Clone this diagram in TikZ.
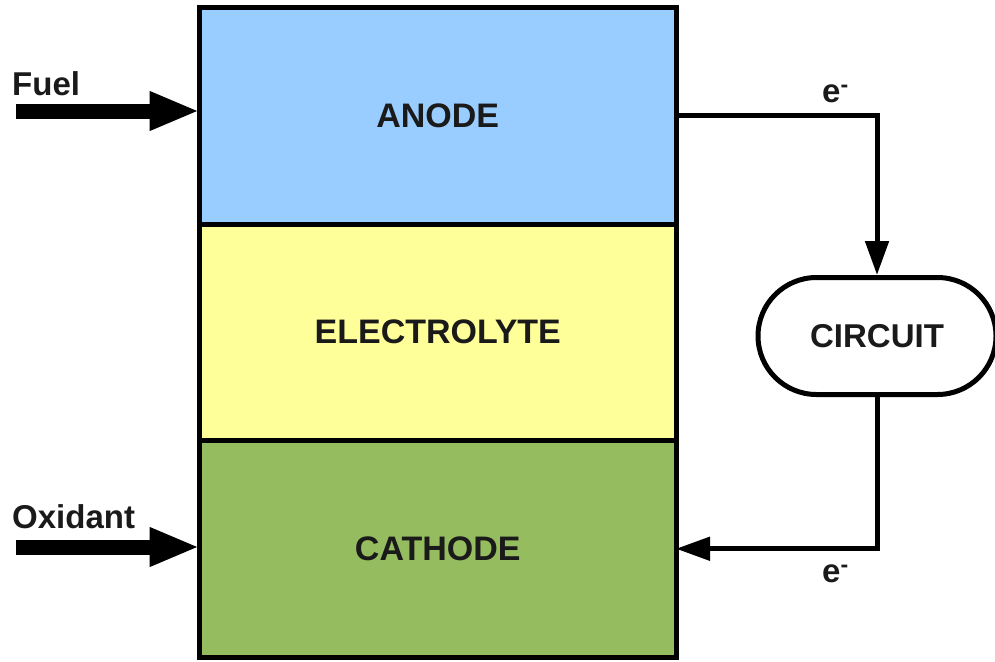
\documentclass[tikz,border=0pt]{standalone}
\usepackage{fontspec}
\setmainfont{Liberation Sans}
\usetikzlibrary{arrows.meta,positioning}
\definecolor{anodefill}{HTML}{99CCFF}
\definecolor{elytefill}{HTML}{FFFF99}
\definecolor{cathfill}{HTML}{95BD5F}
\definecolor{ink}{HTML}{1A1A1A}
\tikzset{
  bigtxt/.style={font=\bfseries\fontsize{33}{39}\selectfont, text=ink},
  layer/.style={rectangle, draw=black, line width=5pt, outer sep=0pt, inner sep=0pt,
                minimum width=476.5pt, minimum height=216.5pt, bigtxt,
                font=\bfseries\fontsize{34}{40}\selectfont},
  loopbox/.style={rectangle, rounded corners=58.5pt, draw=black, fill=white,
                  line width=5pt, minimum width=238pt, minimum height=117pt, bigtxt},
  feed/.style={-{Triangle[length=50pt,width=36pt]}, line width=15pt, draw=black},
  wire/.style={-{Triangle[length=34pt,width=23pt]}, line width=5pt, draw=black},
  lbl/.style={bigtxt, inner sep=0pt}
}

\begin{document}
\begin{tikzpicture}[x=1pt, y=-1pt]
  \useasboundingbox (0,0) rectangle (995,661);
  \node[layer, fill=anodefill] (anode) at (437.75,115.75) {ANODE};
  \node[layer, fill=elytefill, below=0pt of anode] (elyte) {ELECTROLYTE};
  \node[layer, fill=cathfill, below=0pt of elyte] (cathode) {CATHODE};
  \node[loopbox] (circuit) at (877,336) {CIRCUIT};
  % feeds
  \coordinate (fuelin) at (16,111);
  \coordinate (oxin) at (16,547);
  \node[lbl, anchor=base west] (fuel) at (12,95) {Fuel};
  \node[lbl, anchor=base west] (oxid) at (12,528) {Oxidant};
  \draw[feed] (fuelin) -- (fuelin -| anode.west);
  \draw[feed] (oxin) -- (oxin -| cathode.west);
  % electron loop
  \draw[wire] (anode.east) -| (circuit.north);
  \draw[wire] (circuit.south) |- (cathode.east);
  \node[lbl, anchor=base west] (etop) at (822,102) {e\textsuperscript{-}};
  \node[lbl, anchor=base west] (ebot) at (822,582) {e\textsuperscript{-}};
\end{tikzpicture}
\end{document}
